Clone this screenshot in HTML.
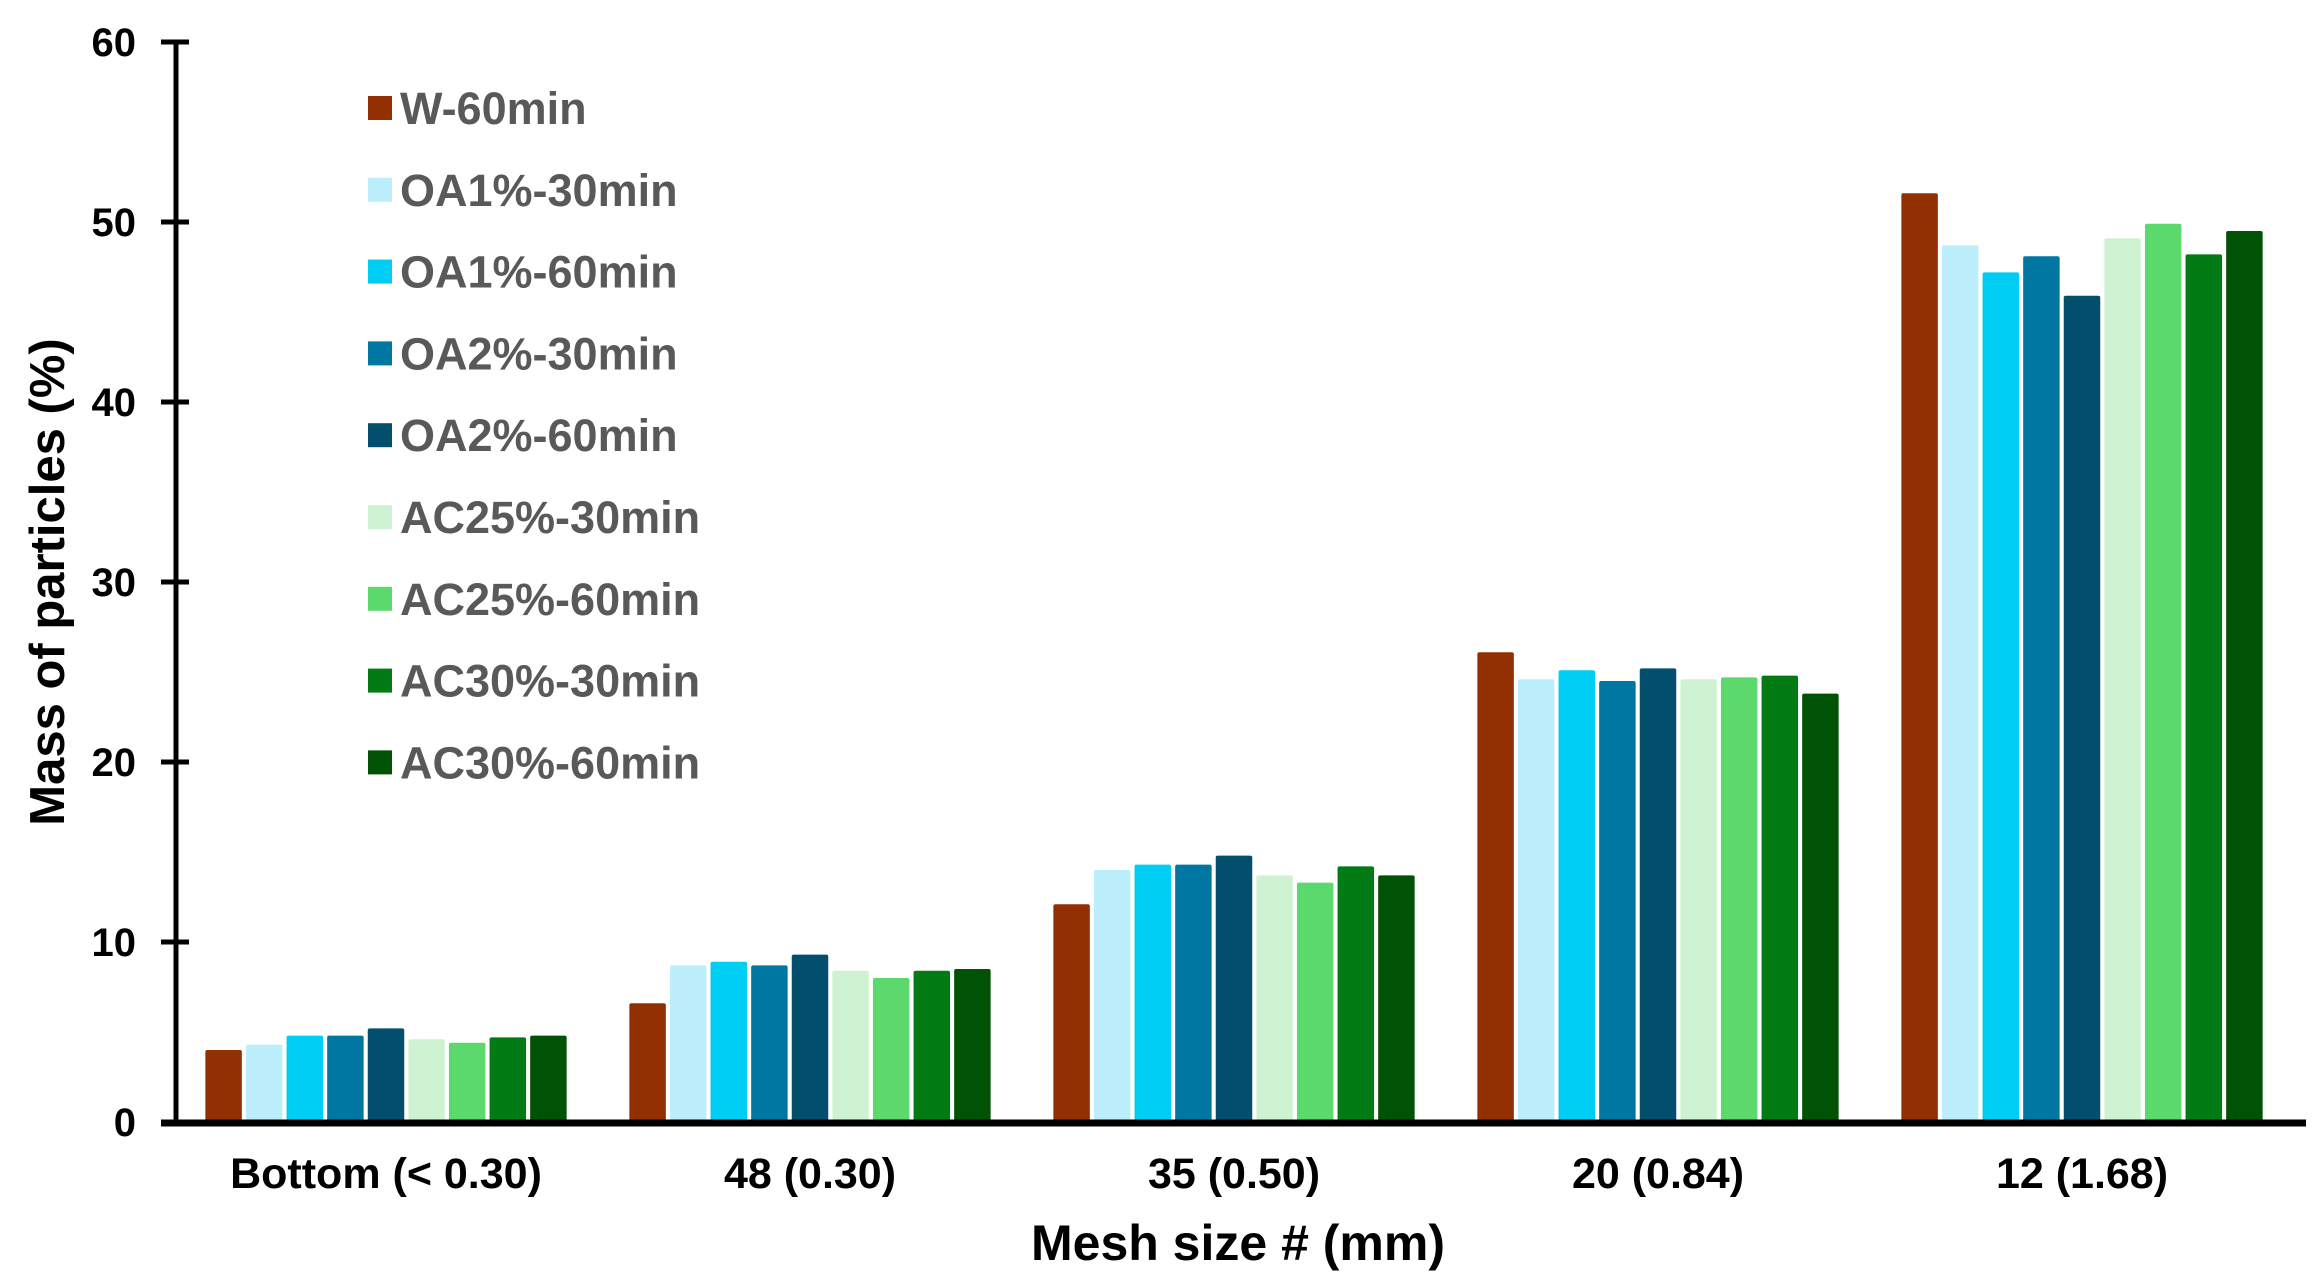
<!DOCTYPE html>
<html><head><meta charset="utf-8"><style>
html,body{margin:0;padding:0;background:#fff;}
svg{display:block;font-family:"Liberation Sans",Arial,sans-serif;font-weight:bold;}
</style></head><body>
<svg id="chart" width="2318" height="1283" viewBox="0 0 2318 1283" xmlns="http://www.w3.org/2000/svg"></svg>
<script>
const categories = ["Bottom (< 0.30)", "48 (0.30)", "35 (0.50)", "20 (0.84)", "12 (1.68)"];
const seriesNames = ["W-60min","OA1%-30min","OA1%-60min","OA2%-30min","OA2%-60min","AC25%-30min","AC25%-60min","AC30%-30min","AC30%-60min"];
const seriesColors = ["#933003","#bdeefb","#00cdf3","#0077a2","#024e6d","#cff2d2","#5cd96c","#027b14","#005204"];
const w60 = [4.0, 6.6, 12.1, 26.1, 51.6];
const oa1_30 = [4.3, 8.7, 14.0, 24.6, 48.7];
const oa1_60 = [4.8, 8.9, 14.3, 25.1, 47.2];
const oa2_30 = [4.8, 8.7, 14.3, 24.5, 48.1];
const oa2_60 = [5.2, 9.3, 14.8, 25.2, 45.9];
const ac25_30 = [4.6, 8.4, 13.7, 24.6, 49.1];
const ac25_60 = [4.4, 8.0, 13.3, 24.7, 49.9];
const ac30_30 = [4.7, 8.4, 14.2, 24.8, 48.2];
const ac30_60 = [4.8, 8.5, 13.7, 23.8, 49.5];
const yTicks = [0, 10, 20, 30, 40, 50, 60];
const series = [w60, oa1_30, oa1_60, oa2_30, oa2_60, ac25_30, ac25_60, ac30_30, ac30_60];

const NS = "http://www.w3.org/2000/svg";
const svg = document.getElementById("chart");
const x0 = 176, xEnd = 2306, y0 = 1122, yTop = 42, yMax = 60;
const firstCenter = 386, catW = 424;
const pitch = 40.6, barW = 36.5;
function yScale(v){ return y0 - (v / yMax) * (y0 - yTop); }
function xCat(ci){ return firstCenter + catW * ci; }
function xBar(ci, si){ return xCat(ci) - pitch * 4.5 + si * pitch + (pitch - barW) / 2; }
function mk(tag, attrs, text){
  const e = document.createElementNS(NS, tag);
  for (const k in attrs) e.setAttribute(k, attrs[k]);
  if (text !== undefined) e.textContent = text;
  svg.appendChild(e);
  return e;
}

series.forEach((vals, si) => {
  vals.forEach((v, ci) => {
    const y = yScale(v);
    const r = mk("rect", {x: xBar(ci, si), y: y, width: barW, height: y0 - y, fill: seriesColors[si], rx: 2});
    
    
  });
});

const ya = mk("line", {x1: x0, y1: yTop, x2: x0, y2: y0, stroke: "#000", "stroke-width": 5});


yTicks.forEach(t => {
  const y = yScale(t);
  const tk = mk("line", {x1: 161, y1: y, x2: 189, y2: y, stroke: "#000", "stroke-width": 5});
  
  
  const lb = mk("text", {x: 136, y: y + 14, "text-anchor": "end", "font-size": 40, fill: "#000"}, String(t));
  
  
});
const xa = mk("line", {x1: 161, y1: y0 + 1, x2: xEnd, y2: y0 + 1, stroke: "#000", "stroke-width": 7});


categories.forEach((c, ci) => {
  const lb = mk("text", {x: xCat(ci), y: 1188, "text-anchor": "middle", "font-size": 43, fill: "#000"}, c);
  
  
});
const xt = mk("text", {x: 1238, y: 1260, "text-anchor": "middle", "font-size": 50, fill: "#000"}, "Mesh size # (mm)");


const yt = mk("text", {x: 0, y: 0, "text-anchor": "middle", "font-size": 49, fill: "#000", transform: "translate(64,582) rotate(-90)"}, "Mass of particles (%)");



seriesNames.forEach((n, si) => {
  const cy = 108 + si * 81.8;
  const sq = mk("rect", {x: 368, y: cy - 12, width: 24, height: 24, fill: seriesColors[si]});
  
  
  const tx = mk("text", {x: 400, y: cy + 16, "font-size": 45, fill: "#595959"}, n);
  
  
});
</script>
</body></html>
